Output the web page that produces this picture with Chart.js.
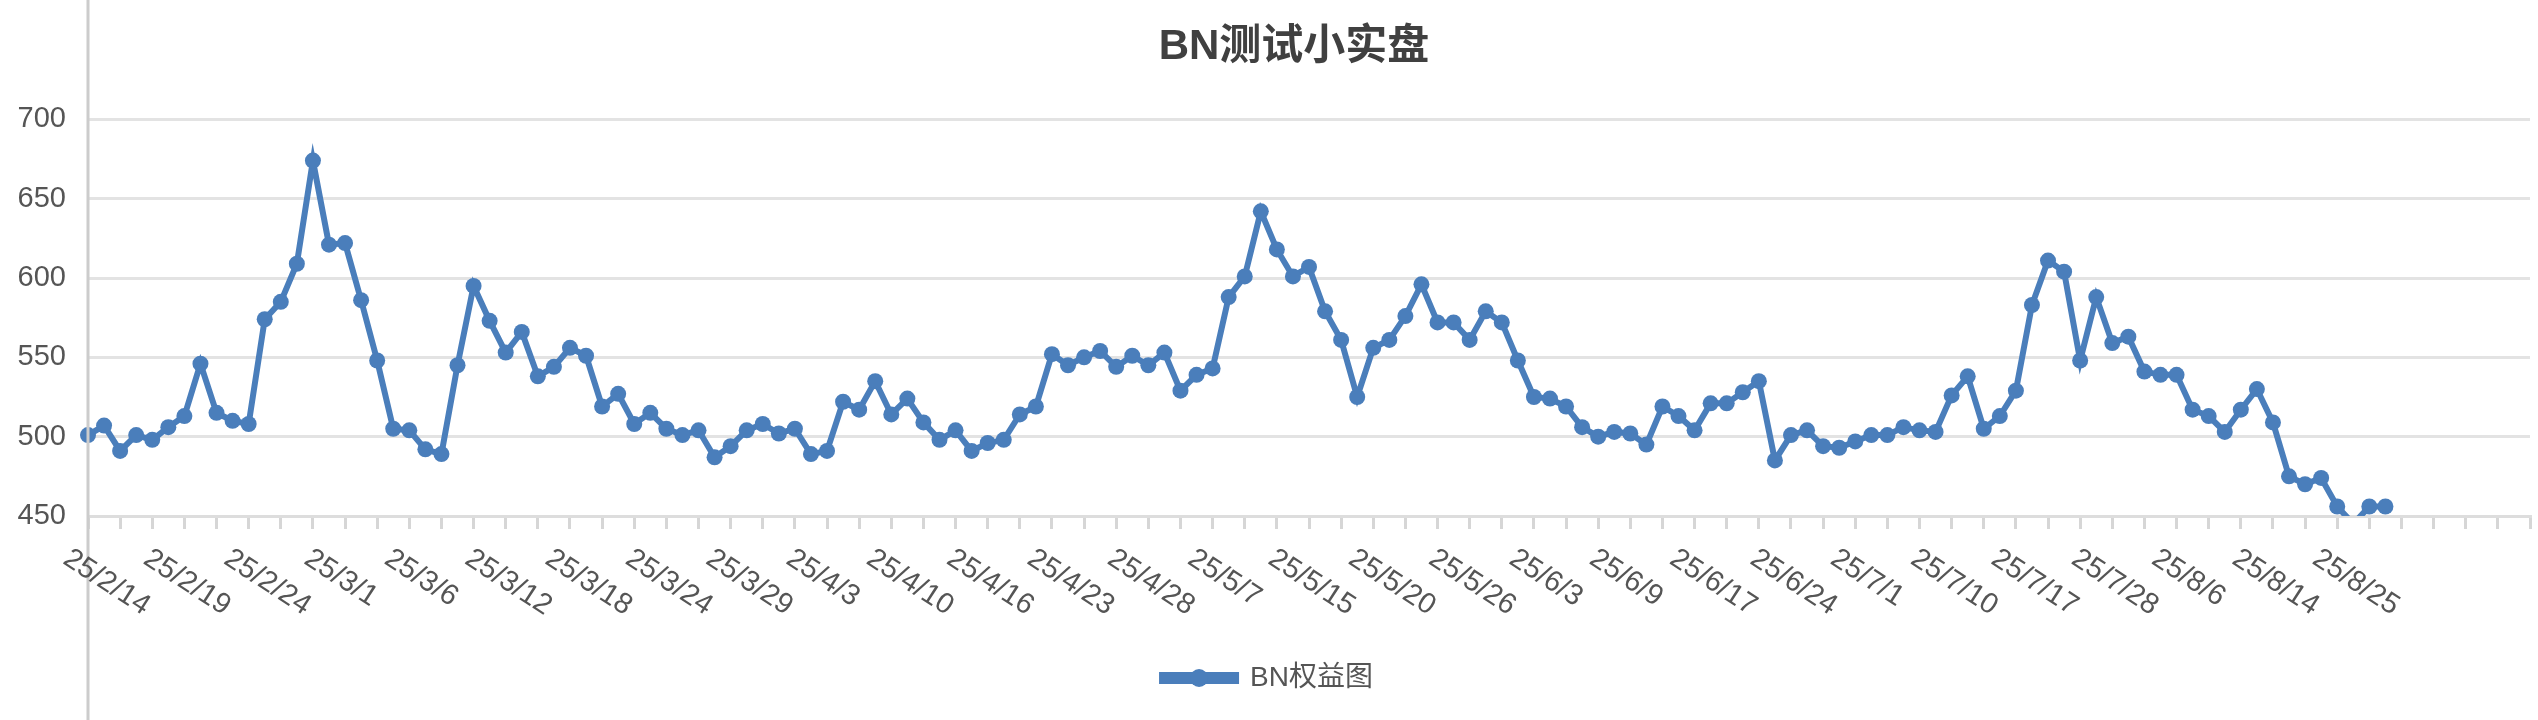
<!DOCTYPE html>
<html>
<head>
<meta charset="utf-8">
<script src="https://cdn.jsdelivr.net/npm/chart.js@4/dist/chart.umd.min.js"></script>
<style>
  body { margin: 0; background: #fff; }
</style>
</head>
<body>
<canvas id="equity" width="2538" height="720"></canvas>
<script>
const chartTitle = "BN测试小实盘";
const seriesName = "BN权益图";

// date labels shown under the axis, one every 5 points
const dateLabels = ["25/2/14", "25/2/19", "25/2/24", "25/3/1", "25/3/6", "25/3/12", "25/3/18",
  "25/3/24", "25/3/29", "25/4/3", "25/4/10", "25/4/16", "25/4/23", "25/4/28", "25/5/7",
  "25/5/15", "25/5/20", "25/5/26", "25/6/3", "25/6/9", "25/6/17", "25/6/24", "25/7/1",
  "25/7/10", "25/7/17", "25/7/28", "25/8/6", "25/8/14", "25/8/25"];

const equity = [
  501, 507, 491, 501, 498, 506, 513, 546, 515, 510,
  508, 574, 585, 609, 674, 621, 622, 586, 548, 505,
  504, 492, 489, 545, 595, 573, 553, 566, 538, 544,
  556, 551, 519, 527, 508, 515, 505, 501, 504, 487,
  494, 504, 508, 502, 505, 489, 491, 522, 517, 535,
  514, 524, 509, 498, 504, 491, 496, 498, 514, 519,
  552, 545, 550, 554, 544, 551, 545, 553, 529, 539,
  543, 588, 601, 642, 618, 601, 607, 579, 561, 525,
  556, 561, 576, 596, 572, 572, 561, 579, 572, 548,
  525, 524, 519, 506, 500, 503, 502, 495, 519, 513,
  504, 521, 521, 528, 535, 485, 501, 504, 494, 493,
  497, 501, 501, 506, 504, 503, 526, 538, 505, 513,
  529, 583, 611, 604, 548, 588, 559, 563, 541, 539,
  539, 517, 513, 503, 517, 530, 509, 475, 470, 474,
  456, 445, 456, 456
];

const slotCount = 153;
const yTicks = [450, 500, 550, 600, 650, 700];

const labels = [];
for (let i = 0; i < slotCount; i++) {
  labels.push(i % 5 === 0 && dateLabels[i / 5] ? dateLabels[i / 5] : "");
}

const blue = "#4a7ebb";
const fontFamily = "'Liberation Sans', Arial, 'Noto Sans CJK SC', sans-serif";

const decorations = {
  id: "decorations",
  afterDraw(chart) {
    const ctx = chart.ctx;
    const x = chart.scales.x;
    const area = chart.chartArea;
    ctx.save();
    // full height y axis line
    ctx.strokeStyle = "#cccccc";
    ctx.lineWidth = 3;
    ctx.beginPath();
    ctx.moveTo(area.left, 0);
    ctx.lineTo(area.left, chart.height);
    ctx.stroke();

    // title
    ctx.fillStyle = "#404040";
    ctx.font = "bold 42px " + fontFamily;
    ctx.textAlign = "center";
    ctx.textBaseline = "middle";
    ctx.fillText(chartTitle, (area.left + area.right) / 2 - 15, 47);

    // rotated date labels running down to the right
    ctx.fillStyle = "#555555";
    ctx.font = "29px " + fontFamily;
    ctx.textAlign = "left";
    ctx.textBaseline = "top";
    labels.forEach((lab, i) => {
      if (!lab) return;
      const px = x.getPixelForValue(i);
      ctx.save();
      ctx.translate(px - 14, area.bottom + 28);
      ctx.rotate(33 * Math.PI / 180);
      ctx.fillText(lab, 0, 0);
      ctx.restore();
    });

    // marker on legend line
    const box = chart.legend.legendHitBoxes[0];
    if (box) {
      ctx.fillStyle = blue;
      ctx.beginPath();
      ctx.arc(box.left + 37, box.top + box.height / 2, 9, 0, Math.PI * 2);
      ctx.fill();
    }
    ctx.restore();
  }
};

new Chart("equity", {
  type: "line",
  data: {
    labels: labels,
    datasets: [
      {
        label: seriesName,
        data: equity,
        borderColor: blue,
        backgroundColor: blue,
        borderWidth: 6,
        pointRadius: 8,
        pointBackgroundColor: blue,
        pointBorderWidth: 0,
        tension: 0,
      },
    ],
  },
  options: {
    responsive: false,
    devicePixelRatio: 1,
    animation: false,
    layout: { padding: { top: 40, right: 3, bottom: 18 } },
    plugins: {
      title: { display: false },
      tooltip: { enabled: false },
      legend: {
        position: "bottom",
        labels: {
          boxWidth: 74,
          boxHeight: 6,
          color: "#555555",
          font: { size: 28, family: fontFamily },
          padding: 10,
        },
      },
    },
    scales: {
      x: {
        offset: false,
        border: { color: "#dddddd", width: 3 },
        grid: {
          drawOnChartArea: false,
          tickLength: 13,
          lineWidth: 3,
          color: (c) => (c.index % 2 === 0 ? "#d6d6d6" : "rgba(0,0,0,0)"),
        },
        ticks: {
          autoSkip: false,
          maxRotation: 0,
          callback: () => "",
        },
        afterFit: (scale) => { scale.height = 138; },
      },
      y: {
        min: 450,
        max: 750,
        border: { display: false },
        afterBuildTicks: (scale) => {
          scale.ticks = yTicks.concat([750]).map((v) => ({ value: v }));
        },
        grid: {
          drawTicks: false,
          lineWidth: 3,
          color: (c) => (c.tick && c.tick.value === 750 ? "rgba(0,0,0,0)" : "#e3e3e3"),
        },
        ticks: {
          padding: 22,
          color: "#555555",
          font: { size: 29, family: fontFamily },
          callback: (v) => (yTicks.includes(v) ? v : ""),
        },
        afterFit: (scale) => { scale.width = 88; },
      },
    },
  },
  plugins: [decorations],
});
</script>
</body>
</html>
